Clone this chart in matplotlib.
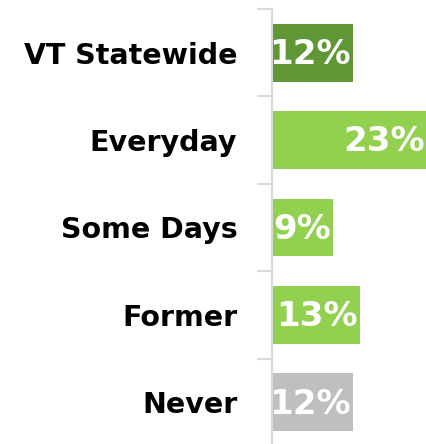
import numpy as np
import matplotlib.pyplot as plt
from matplotlib.ticker import FixedLocator

# data
categories = ['VT Statewide', 'Everyday', 'Some Days', 'Former', 'Never']
values = [12, 23, 9, 13, 12]
labels = ['12%', '23%', '9%', '13%', '12%']
colors = ['#5F9735', '#92D050', '#92D050', '#92D050', '#BFBFBF']

plt.rcParams['font.family'] = ['DejaVu Sans']

fig = plt.figure(figsize=(4.26, 4.44), dpi=100)
ax = fig.add_axes([272/426, -2/444, 154/426, 437/444])

y = np.arange(len(categories))
bars = ax.barh(y, values, height=0.66, color=colors)

for b, v, lab in zip(bars, values, labels):
    t = ax.text(v - 0.3, b.get_y() + b.get_height()/2 + 0.02, lab, ha='right', va='center',
                color='white', fontsize=24.5, fontweight='bold')
    t.set_clip_path(b)

ax.set_ylim(len(categories) - 0.5, -0.5)
ax.set_xlim(0, 22.8)

ax.set_yticks(y)
ax.set_yticklabels(categories, fontsize=20.5, fontweight='bold')
ax.tick_params(axis='y', which='major', length=0, pad=25)
ax.yaxis.set_minor_locator(FixedLocator(np.arange(-0.5, len(categories), 1.0)))
ax.tick_params(axis='y', which='minor', length=11, width=1.5, color='#D9D9D9')
ax.set_xticks([])

for s in ['top', 'right', 'bottom']:
    ax.spines[s].set_visible(False)
ax.spines['left'].set_color('#D9D9D9')
ax.spines['left'].set_linewidth(1.5)

fig.savefig('out.png', dpi=100)
